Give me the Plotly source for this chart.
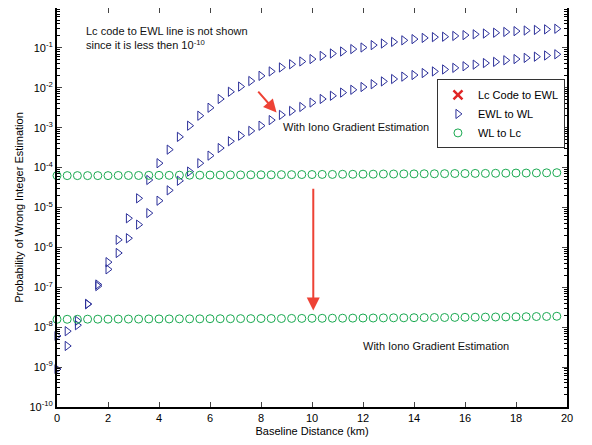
import plotly.graph_objects as go

# ---------------- data ----------------
baseline_km = [round(0.4 * i, 1) for i in range(50)]

# EWL to WL, without iono gradient estimation (log10 of probability)
ewl_wl_log = [-8.22, -8.10, -7.84, -7.42, -6.93, -6.37, -5.81, -5.27, -4.77, -4.31,
              -3.89, -3.55, -3.23, -2.95, -2.70, -2.50, -2.28, -2.10, -1.97, -1.83,
              -1.70, -1.59, -1.49, -1.41, -1.34, -1.28, -1.20, -1.14, -1.09, -1.03,
              -0.99, -0.93, -0.89, -0.85, -0.81, -0.78, -0.75, -0.73, -0.72, -0.70,
              -0.68, -0.66, -0.64, -0.62, -0.60, -0.58, -0.565, -0.55, -0.535, -0.52]

# EWL to WL, with iono gradient estimation
ewl_wl_iono_log = [-9.05, -8.47, -7.95, -7.42, -6.97, -6.55, -6.14, -5.77, -5.43, -5.14,
                   -4.83, -4.57, -4.33, -4.10, -3.89, -3.70, -3.51, -3.34, -3.20, -3.08,
                   -2.95, -2.81, -2.68, -2.58, -2.48, -2.37, -2.28, -2.20, -2.12, -2.05,
                   -1.98, -1.91, -1.84, -1.78, -1.72, -1.68, -1.63, -1.59, -1.54, -1.50,
                   -1.46, -1.42, -1.38, -1.35, -1.31, -1.28, -1.25, -1.22, -1.19, -1.16]

# WL to Lc, without iono gradient estimation (x 1e-5)
wl_lc_e5 = [6.3, 6.3, 6.3, 6.3, 6.3, 6.3, 6.35, 6.35, 6.35, 6.4,
            6.4, 6.4, 6.45, 6.45, 6.45, 6.5, 6.5, 6.55, 6.55, 6.6,
            6.6, 6.6, 6.65, 6.65, 6.7, 6.7, 6.75, 6.75, 6.8, 6.8,
            6.85, 6.85, 6.9, 6.9, 6.95, 6.95, 7.0, 7.0, 7.05, 7.1,
            7.1, 7.15, 7.15, 7.2, 7.25, 7.3, 7.3, 7.35, 7.4, 7.45]

# WL to Lc, with iono gradient estimation (x 1e-8)
wl_lc_iono_e8 = [1.58, 1.58, 1.58, 1.59, 1.59, 1.59, 1.60, 1.60, 1.60, 1.61,
                 1.61, 1.61, 1.62, 1.62, 1.62, 1.63, 1.63, 1.63, 1.64, 1.64,
                 1.65, 1.65, 1.65, 1.66, 1.66, 1.67, 1.67, 1.68, 1.68, 1.69,
                 1.70, 1.70, 1.71, 1.72, 1.72, 1.73, 1.74, 1.75, 1.75, 1.76,
                 1.77, 1.78, 1.79, 1.80, 1.81, 1.82, 1.83, 1.85, 1.86, 1.88]

# Lc code to EWL: below 1e-10, therefore not shown (no plottable values)
lc_ewl_y = [None] * len(baseline_km)

x_ticks = [0, 2, 4, 6, 8, 10, 12, 14, 16, 18, 20]
y_exps = [-10, -9, -8, -7, -6, -5, -4, -3, -2, -1, 0]
y_ticktext = ["10<sup>%d</sup>" % e for e in y_exps]

# ---------------- figure ----------------
FONT = "Liberation Sans, Arial, sans-serif"
BLUE = "#2B2F99"
GREEN = "#19A950"
RED = "#EE4235"

ewl_wl = [10 ** v for v in ewl_wl_log]
ewl_wl_iono = [10 ** v for v in ewl_wl_iono_log]
wl_lc = [v * 1e-5 for v in wl_lc_e5]
wl_lc_iono = [v * 1e-8 for v in wl_lc_iono_e8]

fig = go.Figure()
fig.add_trace(go.Scatter(x=baseline_km, y=lc_ewl_y, mode="markers", name="Lc Code to EWL",
                         marker=dict(symbol="x-thin-open", size=9, color="#E02525",
                                     line=dict(width=2.5, color="#E02525"))))
fig.add_trace(go.Scatter(x=baseline_km, y=ewl_wl, mode="markers", name="EWL to WL",
                         cliponaxis=False,
                         marker=dict(symbol="triangle-right-open", size=8, color=BLUE,
                                     line=dict(width=1, color=BLUE))))
fig.add_trace(go.Scatter(x=baseline_km, y=ewl_wl_iono, mode="markers", name="EWL to WL",
                         showlegend=False, cliponaxis=False,
                         marker=dict(symbol="triangle-right-open", size=8, color=BLUE,
                                     line=dict(width=1, color=BLUE))))
fig.add_trace(go.Scatter(x=baseline_km, y=wl_lc, mode="markers", name="WL to Lc",
                         cliponaxis=False,
                         marker=dict(symbol="circle-open", size=8, color=GREEN,
                                     line=dict(width=1, color=GREEN))))
fig.add_trace(go.Scatter(x=baseline_km, y=wl_lc_iono, mode="markers", name="WL to Lc",
                         showlegend=False, cliponaxis=False,
                         marker=dict(symbol="circle-open", size=8, color=GREEN,
                                     line=dict(width=1, color=GREEN))))

minor_vals = [m * 10 ** e for e in y_exps[:-1] for m in range(2, 10)]

fig.update_xaxes(range=[0, 20], tickvals=x_ticks, ticks="inside", ticklen=5,
                 showline=True, linecolor="black", linewidth=2, mirror="allticks",
                 showgrid=False, zeroline=False, automargin=False,
                 title=dict(text="Baseline Distance (km)", standoff=4,
                            font=dict(size=11, family=FONT, color="black")),
                 tickfont=dict(size=11, family=FONT, color="black"))
fig.update_yaxes(type="log", range=[-10, 0], tickvals=[10 ** e for e in y_exps],
                 ticktext=y_ticktext, ticks="inside", ticklen=5,
                 showline=True, linecolor="black", linewidth=2, mirror="allticks",
                 showgrid=False, zeroline=False, automargin=False,
                 minor=dict(tickmode="array", tickvals=minor_vals, ticks="inside",
                            ticklen=3, tickcolor="black", showgrid=False),
                 title=dict(text="Probability of Wrong Integer Estimation", standoff=4,
                            font=dict(size=11, family=FONT, color="black")),
                 tickfont=dict(size=11, family=FONT, color="black"))

ann_font = dict(size=11, family=FONT, color="#111111")
fig.add_annotation(x=1.05, y=-0.74, xref="x", yref="y", xanchor="left", yanchor="middle",
                   align="left", showarrow=False, font=ann_font,
                   text="Lc code to EWL line is not shown<br>since it is less then 10<sup>-10</sup>")
fig.add_annotation(x=8.78, y=-2.975, xref="x", yref="y", xanchor="left", yanchor="middle",
                   showarrow=False, font=ann_font, text="With Iono Gradient Estimation")
fig.add_annotation(x=11.93, y=-8.47, xref="x", yref="y", xanchor="left", yanchor="middle",
                   showarrow=False, font=ann_font, text="With Iono Gradient Estimation")
# arrows
fig.add_annotation(x=8.61, y=-2.62, ax=7.84, ay=-2.06, xref="x", yref="y", axref="x", ayref="y",
                   text="", showarrow=True, arrowhead=2, arrowsize=1.3, arrowwidth=2,
                   arrowcolor=RED)
fig.add_annotation(x=10.05, y=-7.58, ax=10.05, ay=-4.49, xref="x", yref="y", axref="x", ayref="y",
                   text="", showarrow=True, arrowhead=2, arrowsize=1.3, arrowwidth=2,
                   arrowcolor=RED)

# the page places the figure 8px from the window's top-left corner
fig.update_layout(
    width=584, height=437,
    margin=dict(l=49, r=25, t=0, b=38, autoexpand=False),
    paper_bgcolor="white", plot_bgcolor="white",
    font=dict(family=FONT, size=11, color="black"),
    showlegend=True,
    legend=dict(x=0.745, y=0.821, xanchor="left", yanchor="top",
                bgcolor="white", bordercolor="#333333", borderwidth=1,
                font=dict(size=11, family=FONT, color="black"), tracegroupgap=0),
)

fig.write_html("out.html")
